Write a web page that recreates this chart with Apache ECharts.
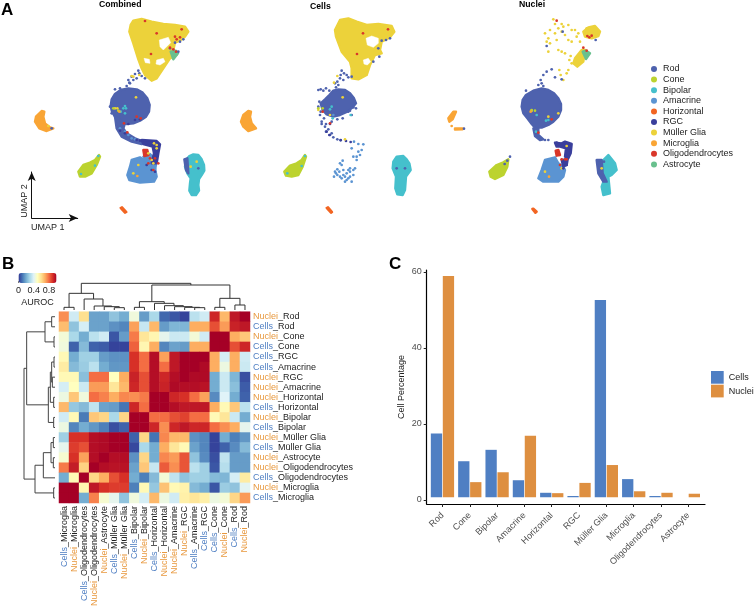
<!DOCTYPE html>
<html><head><meta charset="utf-8">
<style>html,body{margin:0;padding:0;background:#fff}#c{width:754px;height:610px}</style>
<script src="https://cdn.jsdelivr.net/npm/echarts@6/dist/echarts.min.js"></script>
</head><body><div id="c"></div>
<script>
// ---------- Cell types ----------
const cellTypes = ['Rod','Cone','Bipolar','Amacrine','Horizontal','RGC','Müller Glia','Microglia','Oligodendrocytes','Astrocyte'];
const typeColors = ['#4e62ae','#bcd32f','#45c0cc','#5b94d2','#f26522','#3a3f9c','#ecd23a','#f9a535','#d9372a','#69c08e'];

// ---------- Panel C ----------
const cellsPercent  = [17.5,10.2,13.2,5.2,1.9,1.05,52.6,5.5,1.05,0];
const nucleiPercent = [58.9,4.7,7.3,16.9,1.8,4.5,9.2,2.3,1.9,1.65];
const barTicks = [0,20,40,60];

// ---------- Panel B ----------
const heatCols = ['Cells_Microglia','Nuclei_Microglia','Cells_Oligodendrocytes','Nuclei_Oligodendrocytes','Nuclei_Astrocyte','Cells_Müller Glia','Nuclei_Müller Glia','Cells_Bipolar','Nuclei_Bipolar','Cells_Horizontal','Nuclei_Horizontal','Nuclei_Amacrine','Nuclei_RGC','Cells_Amacrine','Cells_RGC','Cells_Cone','Nuclei_Cone','Cells_Rod','Nuclei_Rod'];
const heatRows = ['Nuclei_Rod','Cells_Rod','Nuclei_Cone','Cells_Cone','Cells_RGC','Cells_Amacrine','Nuclei_RGC','Nuclei_Amacrine','Nuclei_Horizontal','Cells_Horizontal','Nuclei_Bipolar','Cells_Bipolar','Nuclei_Müller Glia','Cells_Müller Glia','Nuclei_Astrocyte','Nuclei_Oligodendrocytes','Cells_Oligodendrocytes','Nuclei_Microglia','Cells_Microglia'];
const heatValues = [
[.75,.37,.6,.18,.18,.25,.2,.45,.17,.3,.08,.05,.02,.33,.37,.92,.68,.95,1],
[.67,.25,.38,.18,.18,.15,.13,.72,.35,.68,.17,.22,.22,.7,.7,.85,.73,.93,.95],
[.46,.3,.2,.33,.37,.05,.17,.78,.58,.53,.42,.36,.36,.46,.37,1,1,.7,.65],
[.45,.07,.23,.07,.06,.02,.02,.82,.53,.7,.13,.18,.17,.7,.7,1,1,.85,.92],
[.52,.2,.28,.28,.17,.15,.15,.9,.8,.97,.72,.95,1,1,1,.7,.38,.7,.37],
[.56,.23,.27,.33,.2,.16,.16,.9,.8,.97,.8,.95,1,1,.98,.7,.44,.7,.36],
[.52,.52,.24,.8,.8,.5,.7,.93,.85,.97,.92,.97,1,.98,.98,.2,.36,.22,.04],
[.38,.5,.36,.73,.73,.58,.68,.92,.85,.97,.93,.98,.97,.97,.96,.2,.36,.24,.06],
[.44,.65,.45,.8,.77,.7,.76,.75,.78,1,1,.92,.9,.8,.72,.14,.4,.2,.07],
[.68,.26,.23,.34,.18,.17,.1,.92,.8,1,1,.97,.95,.95,.95,.7,.52,.65,.33],
[.37,.52,.11,.65,.62,.3,.62,1,1,.8,.8,.85,.87,.8,.8,.52,.58,.36,.2],
[.44,.13,.2,.16,.12,.04,.07,1,1,.92,.75,.92,.95,.92,.92,.8,.75,.7,.42],
[.28,.9,.9,.97,.98,1,1,.07,.62,.1,.76,.68,.68,.15,.13,.02,.2,.12,.16],
[.42,.88,.85,.97,.98,1,1,.03,.3,.2,.7,.58,.52,.18,.13,.02,.07,.14,.23],
[.47,.9,.72,.97,1,.97,.97,.15,.62,.2,.76,.73,.84,.25,.14,.04,.34,.17,.17],
[.78,.94,.63,1,.97,.96,.96,.18,.65,.35,.83,.75,.84,.33,.28,.05,.32,.17,.17],
[.2,.52,1,.62,.7,.85,.9,.2,.12,.23,.46,.34,.25,.28,.28,.23,.22,.38,.56],
[1,1,.53,.95,.9,.88,.88,.12,.52,.26,.66,.52,.54,.23,.2,.05,.27,.25,.41],
[1,1,.2,.77,.47,.42,.25,.45,.38,.68,.44,.37,.55,.58,.55,.44,.46,.62,.73]];
const aurocColors = ['#313695','#4575b4','#74add1','#abd9e9','#e0f3f8','#ffffbf','#fee090','#fdae61','#f46d43','#d73027','#a50026'];
// dendrogram merges: [child, child, height]; child < 19 is a leaf, otherwise 19 + merge index
const topMerges = [[0,1,8],[5,6,7],[4,20,10],[3,21,12],[2,22,33],[19,23,50],[13,14,7],[12,25,8],[11,26,10],[10,27,13],[9,28,20],[7,8,8],[30,29,25],[15,16,8],[17,18,15],[32,33,35],[31,34,75],[24,35,80]];
const leftMerges = [[0,1,10],[2,3,3],[19,20,30],[4,5,3],[6,7,8],[22,23,10],[8,9,4],[24,25,14],[10,11,4],[26,27,20],[21,28,85],[12,13,5],[14,15,5],[30,31,12],[16,32,35],[17,18,4],[33,34,60],[29,35,93]];

// ---------- Panel A: UMAP readings (outlines of dense clouds, then single points) ----------
const combMuller=[[400,62],[425,57],[455,65],[490,72],[525,75],[555,80],[565,95],[555,110],[540,122],[525,128],[520,150],[530,165],[510,175],[490,205],[470,235],[455,242],[435,225],[425,205],[415,178],[400,130],[388,95],[392,75]];
const combGap1=[[478,120],[505,112],[512,128],[500,140],[490,150],[480,140]];
const combGap2=[[470,180],[490,175],[495,185],[480,195],[468,192]];
const combGap3=[[432,175],[448,178],[450,190],[436,188]];
const combAstro=[[512,155],[528,152],[534,160],[520,178]];
const combRod=[[385,265],[410,268],[428,278],[442,295],[449,315],[447,335],[438,350],[420,362],[400,370],[380,372],[362,366],[346,352],[336,335],[332,318],[335,298],[345,282],[362,270]];
const combRodTail=[[345,350],[375,370],[370,385],[380,400],[405,415],[430,425],[425,432],[395,425],[365,410],[350,385]];
const combRgc=[[425,420],[470,423],[480,433],[475,460],[470,490],[455,490],[462,460],[458,440],[430,432]];
const combAmacrine=[[395,480],[420,472],[445,490],[465,505],[470,530],[462,545],[420,548],[388,540],[382,525],[390,500]];
const combAmacrineUp=[[430,470],[450,462],[470,482],[465,510],[445,495]];
const combOligoBlock=[[430,450],[442,450],[445,465],[433,468]];
const combBipolar=[[580,463],[595,465],[605,478],[612,495],[613,512],[605,525],[597,537],[595,555],[597,572],[588,585],[575,585],[568,572],[570,550],[572,535],[562,520],[555,500],[558,480],[568,468]];
const combRodOnBipolar=[[553,478],[562,475],[565,520],[558,510]];
const combCone=[[235,515],[250,495],[270,488],[285,480],[297,465],[300,470],[290,495],[275,520],[255,530],[240,530]];
const combMicroglia=[[125,333],[133,335],[130,350],[135,370],[150,382],[160,385],[140,393],[118,385],[105,365],[108,350]];
const combHorizontal=[[362,624],[366,622],[379,636],[375,638]];
const combRodDots=[[385,240],[395,230],[405,222],[415,212],[390,250],[380,258],[425,228],[435,235],[400,240],[410,235],[360,265],[345,268],[330,320],[335,340],[525,128],[540,125],[550,118],[510,145],[535,155],[155,385],[595,505],[388,248],[418,220]];
const combAmacrineDots=[[375,395],[385,405],[360,385],[395,415],[405,418]];
const combRgcDots=[[360,392],[375,400],[410,420],[420,422],[405,360],[420,358],[385,372],[455,510],[440,495],[465,515]];
const combMullerDots=[[408,292],[352,325],[345,325],[400,230],[418,225],[395,228],[462,430],[470,445],[470,435],[400,520],[415,495],[445,460],[460,490],[455,480],[572,500],[590,485],[145,378]];
const combBipolarDots=[[375,318],[370,325],[378,325],[375,340],[362,335],[285,497],[243,522],[295,468]];
const combConeDots=[[340,325],[355,332]];
const combMicrogliaDots=[[358,335],[412,528]];
const combOligoDots=[[435,63],[470,100],[525,110],[545,88],[540,112],[530,118],[453,162],[520,148],[528,155],[510,143],[372,370],[422,355],[410,350],[382,397],[450,475],[465,475],[445,490],[460,510],[475,490]];

const cellMuller=[[270,60],[295,55],[320,65],[350,75],[385,72],[425,78],[433,95],[420,112],[395,125],[390,150],[395,160],[375,165],[360,195],[350,225],[325,238],[305,235],[305,205],[300,185],[275,155],[258,110],[255,90]];
const cellGap1=[[348,115],[365,108],[385,115],[385,130],[370,142],[352,135]];
const cellGap2=[[340,180],[355,175],[362,185],[352,195],[342,192]];
const cellRod=[[265,268],[285,270],[300,280],[312,295],[318,310],[308,322],[292,335],[270,345],[250,350],[230,343],[218,330],[212,310],[225,298],[238,285],[250,272]];
const cellCone=[[103,515],[120,497],[140,490],[155,480],[165,465],[168,470],[158,500],[145,525],[125,530],[108,527]];
const cellMicroglia=[[-5,333],[3,335],[0,350],[5,370],[18,385],[-5,393],[-20,380],[-27,365],[-20,345]];
const cellBipolar=[[440,470],[460,468],[470,478],[478,490],[482,510],[468,530],[465,570],[458,585],[442,583],[436,565],[438,530],[428,505],[430,485]];
const cellHorizontal=[[230,624],[234,622],[246,636],[243,638]];
const cellRodDots=[[395,122],[420,115],[408,120],[385,145],[370,185],[388,170],[205,270],[212,268],[220,272],[228,265],[238,272],[208,305],[205,320],[212,335],[210,345],[222,355],[300,332],[310,322],[318,325],[305,345],[295,335],[278,355],[262,358],[245,365],[275,212],[282,220],[270,235],[262,245],[255,250],[265,255],[280,240],[295,232],[305,230],[272,225],[258,262],[290,225],[215,365],[225,380],[228,395],[240,405],[250,412],[262,418],[272,421],[215,372],[235,388],[228,372],[245,400],[440,505],[465,505]];
const cellRgcDots=[[240,372],[230,395],[238,405],[272,420],[288,423],[302,426]];
const cellAmacrineDots=[[312,425],[325,432],[340,433],[335,450],[330,465],[320,480],[305,445],[310,470],[320,470],[325,455],[270,490],[278,482],[275,495],[262,508],[258,520],[252,530],[262,525],[270,530],[280,525],[290,520],[300,515],[310,510],[315,505],[300,530],[290,540],[305,545],[295,535],[275,535],[285,530],[268,515],[280,510],[300,505],[255,515],[310,525],[295,510],[285,545],[250,345]];
const cellMullerDots=[[278,292],[252,248],[285,418],[262,228],[240,345],[205,330]];
const cellBipolarDots=[[245,320],[240,328],[302,345],[248,355],[165,468],[155,498],[112,520]];
const cellConeDots=[[205,325],[218,325]];
const cellOligoDots=[[339,100],[414,88],[321,162],[240,370],[218,335]];

const nucMullerDense1=[[250,95],[265,82],[285,78],[300,95],[295,108],[275,115],[255,110]];
const nucMullerDense2=[[225,175],[245,150],[255,150],[250,185],[232,200],[220,190]];
const nucAstro=[[248,155],[258,152],[270,160],[258,177]];
const nucRod=[[125,265],[145,270],[162,280],[175,295],[183,312],[183,330],[175,350],[160,365],[145,375],[125,383],[105,383],[95,372],[82,355],[70,340],[65,320],[68,300],[78,285],[100,272]];
const nucRodTail=[[100,385],[115,385],[115,405],[130,418],[120,420],[105,408]];
const nucRgc=[[165,428],[185,430],[195,425],[215,432],[212,460],[205,475],[195,470],[198,445],[180,440],[170,440]];
const nucRgc2=[[185,480],[203,478],[200,495],[190,500]];
const nucAmacrine=[[135,480],[165,472],[175,490],[190,500],[195,510],[190,530],[175,545],[130,545],[115,535],[125,510],[130,495]];
const nucOligoBlock=[[167,452],[175,450],[180,465],[170,467]];
const nucRodOnBipolar=[[290,480],[305,480],[308,520],[320,545],[310,545],[295,520]];
const nucBipolar=[[310,480],[325,465],[345,490],[350,510],[335,525],[325,530],[330,580],[310,585],[305,560],[312,540],[312,515],[305,490]];
const nucCone=[[-32,515],[-10,495],[10,487],[25,478],[22,500],[10,525],[-15,537],[-28,530]];
const nucMicroglia1=[[-155,355],[-140,335],[-132,335],[-142,358],[-152,365]];
const nucMicroglia2=[[-135,385],[-112,385],[-112,388],[-135,389]];
const nucHorizontal=[[97,627],[100,626],[110,635],[106,638]];
const nucMullerDots=[[160,58],[165,72],[185,72],[205,75],[215,90],[175,85],[135,100],[150,90],[165,100],[185,95],[205,120],[215,125],[195,105],[140,125],[150,130],[145,155],[175,150],[185,155],[195,160],[170,120],[235,100],[240,125],[145,115],[225,90],[190,80],[230,110],[260,85],[215,190],[205,210],[200,220],[190,240],[178,210],[182,225],[212,168],[208,180],[175,340],[145,350],[95,332],[200,438],[135,515],[185,505],[305,505]];
const nucRodDots=[[155,208],[140,215],[130,225],[122,240],[125,250],[130,258],[115,255],[165,232],[78,272],[185,238],[135,420],[145,420],[287,120],[188,95],[140,138],[22,482],[30,470],[14,492],[-108,386],[312,485]];
const nucBipolarDots=[[110,345],[145,360],[138,362],[108,395]];
const nucConeDots=[[105,332],[95,330]];
const nucMicrogliaDots=[[-145,378],[92,335],[147,530]];
const nucOligoDots=[[170,62],[262,108],[268,112],[275,107],[250,143],[260,152],[115,398],[155,358],[185,478],[195,478],[200,478],[180,495]];
const nucRgcDots=[[170,428],[200,495],[190,505]];

// ---------- Build ----------
const panels = [{off:0},{off:250},{off:500}];
const color = n => typeColors[cellTypes.indexOf(n)];
const series = [];
function shape(p, name, pts, fill){
  const c = fill || color(name);
  const gap = fill==='#ffffff';
  series.push({type:'custom',name:name,xAxisIndex:p,yAxisIndex:p,silent:true,clip:false,data:pts,itemStyle:{color:c},
    encode:{x:0,y:1},
    renderItem:(ps,api)=> ps.dataIndex>0 ? null : {type:'polygon',shape:{points:pts.map(q=>api.coord(q))},
      style:{fill:c,stroke:c,lineWidth:gap?0.5:2.4,lineJoin:'round'}}});
}
function dots(p, name, pts){
  series.push({type:'scatter',name:name,xAxisIndex:p,yAxisIndex:p,silent:true,data:pts,symbolSize:2.7,itemStyle:{color:color(name),opacity:1}});
}
// Combined
shape(0,'Müller Glia',combMuller);[combGap1,combGap2,combGap3].forEach(g=>shape(0,'gap',g,'#ffffff'));
shape(0,'Astrocyte',combAstro);dots(0,'Rod',combRodDots);
shape(0,'Amacrine',combAmacrine);shape(0,'Amacrine',combAmacrineUp);
shape(0,'Rod',combRod);shape(0,'Rod',combRodTail);shape(0,'RGC',combRgc);
shape(0,'Bipolar',combBipolar);shape(0,'Rod',combRodOnBipolar);shape(0,'Cone',combCone);
shape(0,'Microglia',combMicroglia);shape(0,'Horizontal',combHorizontal);shape(0,'Oligodendrocytes',combOligoBlock);
dots(0,'Amacrine',combAmacrineDots);dots(0,'RGC',combRgcDots);dots(0,'Müller Glia',combMullerDots);
dots(0,'Bipolar',combBipolarDots);dots(0,'Cone',combConeDots);dots(0,'Microglia',combMicrogliaDots);dots(0,'Oligodendrocytes',combOligoDots);
// Cells
shape(1,'Müller Glia',cellMuller);[cellGap1,cellGap2].forEach(g=>shape(1,'gap',g,'#ffffff'));
shape(1,'Rod',cellRod);shape(1,'Bipolar',cellBipolar);shape(1,'Cone',cellCone);shape(1,'Microglia',cellMicroglia);shape(1,'Horizontal',cellHorizontal);
dots(1,'Rod',cellRodDots);dots(1,'RGC',cellRgcDots);dots(1,'Amacrine',cellAmacrineDots);dots(1,'Müller Glia',cellMullerDots);
dots(1,'Bipolar',cellBipolarDots);dots(1,'Cone',cellConeDots);dots(1,'Oligodendrocytes',cellOligoDots);
// Nuclei
shape(2,'Müller Glia',nucMullerDense1);shape(2,'Müller Glia',nucMullerDense2);shape(2,'Astrocyte',nucAstro);
shape(2,'Amacrine',nucAmacrine);shape(2,'Rod',nucRod);shape(2,'Rod',nucRodTail);shape(2,'RGC',nucRgc);shape(2,'RGC',nucRgc2);
shape(2,'Bipolar',nucBipolar);shape(2,'Rod',nucRodOnBipolar);shape(2,'Cone',nucCone);
shape(2,'Microglia',nucMicroglia1);shape(2,'Microglia',nucMicroglia2);shape(2,'Horizontal',nucHorizontal);shape(2,'Oligodendrocytes',nucOligoBlock);
dots(2,'Müller Glia',nucMullerDots);dots(2,'Rod',nucRodDots);dots(2,'Bipolar',nucBipolarDots);dots(2,'Cone',nucConeDots);
dots(2,'Microglia',nucMicrogliaDots);dots(2,'Oligodendrocytes',nucOligoDots);dots(2,'RGC',nucRgcDots);

const grids=[], xAxes=[], yAxes=[];
const G=o=>({outerBoundsMode:'none',containLabel:false,...o});
panels.forEach(p=>{
  grids.push(G({left:p.off-150,top:0,width:410,height:240}));
  xAxes.push({type:'value',gridIndex:grids.length-1,min:-450,max:780,show:false});
  yAxes.push({type:'value',gridIndex:grids.length-1,min:0,max:720,inverse:true,show:false});
});
// UMAP arrows (index 3)
grids.push(G({left:31.7,top:172,width:46,height:46}));
const arrowLine={show:true,symbol:['none','arrow'],symbolSize:[6,9],lineStyle:{color:'#111',width:1}};
xAxes.push({type:'value',gridIndex:3,min:0,max:1,name:'UMAP 1',nameLocation:'middle',nameGap:5,nameTextStyle:{fontFamily:'Liberation Sans',fontSize:9,color:'#222',padding:[0,14,0,0]},axisLine:arrowLine,axisTick:{show:false},axisLabel:{show:false},splitLine:{show:false}});
yAxes.push({type:'value',gridIndex:3,min:0,max:1,name:'UMAP 2',nameLocation:'middle',nameGap:3,nameTextStyle:{fontFamily:'Liberation Sans',fontSize:9,color:'#222',padding:[0,12,0,0]},axisLine:arrowLine,axisTick:{show:false},axisLabel:{show:false},splitLine:{show:false}});
// Heatmap (index 4)
grids.push(G({left:59,top:311.7,width:191,height:191.3}));
const richLabel={Cells:{color:'#4f7fc3',fontSize:9,fontFamily:'Liberation Sans'},Nuclei:{color:'#e8993f',fontSize:9,fontFamily:'Liberation Sans'},rest:{color:'#222',fontSize:9,fontFamily:'Liberation Sans'}};
const fmt=v=>{const i=v.indexOf('_');const a=v.slice(0,i);return '{'+a+'|'+a+'}{rest|'+v.slice(i)+'}';};
xAxes.push({type:'category',gridIndex:4,data:heatCols,position:'bottom',axisLine:{show:false},axisTick:{show:false},splitLine:{show:false},axisLabel:{interval:0,rotate:90,margin:3,formatter:fmt,rich:richLabel}});
yAxes.push({type:'category',gridIndex:4,data:heatRows,inverse:true,position:'right',axisLine:{show:false},axisTick:{show:false},splitLine:{show:false},axisLabel:{interval:0,margin:3,formatter:fmt,rich:richLabel}});
const heatData=[];heatValues.forEach((r,i)=>r.forEach((v,j)=>heatData.push([j,i,v])));
series.push({type:'heatmap',name:'AUROC',xAxisIndex:4,yAxisIndex:4,data:heatData,silent:true,progressive:0});
const heatIndex=series.length-1;
// Top dendrogram (index 5)
function segments(merges){
  const pos=[],ht=[];for(let i=0;i<19;i++){pos[i]=i+.5;ht[i]=0;}
  return merges.map((m,k)=>{const r=[pos[m[0]],ht[m[0]],pos[m[1]],ht[m[1]],m[2]];pos[19+k]=(pos[m[0]]+pos[m[1]])/2;ht[19+k]=m[2];return r;});
}
grids.push(G({left:59,top:283,width:191,height:27}));
xAxes.push({type:'value',gridIndex:5,min:0,max:19,show:false});
yAxes.push({type:'value',gridIndex:5,min:0,max:81,show:false});
series.push({type:'custom',xAxisIndex:5,yAxisIndex:5,silent:true,clip:false,data:segments(topMerges),encode:{x:[0,2],y:[1,3,4]},
  renderItem:(ps,api)=>({type:'polyline',shape:{points:[[api.value(0),api.value(1)],[api.value(0),api.value(4)],[api.value(2),api.value(4)],[api.value(2),api.value(3)]].map(q=>api.coord(q))},style:{fill:'none',stroke:'#333',lineWidth:1}})});
// Left dendrogram (index 6)
grids.push(G({left:24,top:311.7,width:31,height:191.3}));
xAxes.push({type:'value',gridIndex:6,min:0,max:93,inverse:true,show:false});
yAxes.push({type:'value',gridIndex:6,min:0,max:19,inverse:true,show:false});
series.push({type:'custom',xAxisIndex:6,yAxisIndex:6,silent:true,clip:false,data:segments(leftMerges),encode:{y:[0,2],x:[1,3,4]},
  renderItem:(ps,api)=>({type:'polyline',shape:{points:[[api.value(1),api.value(0)],[api.value(4),api.value(0)],[api.value(4),api.value(2)],[api.value(3),api.value(2)]].map(q=>api.coord(q))},style:{fill:'none',stroke:'#444',lineWidth:1}})});
// Colour bar ticks (index 7)
grids.push(G({left:18.5,top:273,width:38,height:10}));
xAxes.push({type:'value',gridIndex:7,min:0,max:1,interval:.4,name:'AUROC',nameLocation:'middle',nameGap:15,nameTextStyle:{fontFamily:'Liberation Sans',fontSize:9,color:'#222'},axisLine:{show:false},axisTick:{inside:true,length:2,lineStyle:{color:'#222',width:.6}},splitLine:{show:false},axisLabel:{margin:3,fontFamily:'Liberation Sans',fontSize:9,color:'#222',formatter:v=>String(+v.toFixed(1))}});
yAxes.push({type:'value',gridIndex:7,min:0,max:1,show:false});
// Bars (index 8) and axis frame (index 9)
const yMin=-1.05,yMax=60.5;
grids.push(G({left:428.8,top:270,width:273.2,height:234}));
xAxes.push({type:'category',gridIndex:8,data:cellTypes,position:'bottom',axisLine:{show:false,onZero:false},axisTick:{show:true,alignWithLabel:true,length:3,lineStyle:{color:'#222'}},splitLine:{show:false},axisLabel:{interval:0,rotate:45,margin:10,fontFamily:'Liberation Sans',fontSize:9,color:'#4d4d4d'}});
yAxes.push({type:'value',gridIndex:8,min:yMin,max:yMax,show:false});
grids.push(G({left:426.7,top:270,width:278.3,height:234}));
xAxes.push({type:'value',gridIndex:9,min:0,max:1,axisLine:{show:true,onZero:false,lineStyle:{color:'#000',width:1.2}},axisTick:{show:false},axisLabel:{show:false},splitLine:{show:false}});
yAxes.push({type:'value',gridIndex:9,min:yMin,max:yMax,name:'Cell Percentage',nameLocation:'middle',nameGap:21,nameTextStyle:{fontFamily:'Liberation Sans',fontSize:9,color:'#222'},axisLine:{show:true,onZero:false,lineStyle:{color:'#000',width:1.2}},axisTick:{show:true,length:3,customValues:barTicks,lineStyle:{color:'#222'}},splitLine:{show:false},axisLabel:{customValues:barTicks,margin:5,fontFamily:'Liberation Sans',fontSize:9,color:'#4d4d4d'}});
const barCommon={type:'bar',xAxisIndex:8,yAxisIndex:8,barWidth:11.3,barGap:'6%',silent:true};
series.push({...barCommon,name:'Cells',data:cellsPercent,itemStyle:{color:'#4f7fc3'}});
series.push({...barCommon,name:'Nuclei',data:nucleiPercent,itemStyle:{color:'#de8f40'},
  markArea:{silent:true,z:6,itemStyle:{color:'#fff',opacity:1},data:[[{yAxis:0},{yAxis:.7}]]}});

const txt=(text,left,top,size,extra)=>({text:text,left:left,top:top,padding:0,textStyle:{fontFamily:'Liberation Sans',fontWeight:'bold',fontSize:size,color:'#000'},...extra});
const option={
  animation:false,
  textStyle:{fontFamily:'Liberation Sans'},
  title:[txt('A',1,2,17),txt('B',2,256,17),txt('C',389,256,17),
    txt('Combined',99,0,8.7),txt('Cells',310,2,8.7),txt('Nuclei',519,0,8.7)],
  grid:grids,xAxis:xAxes,yAxis:yAxes,series:series,
  visualMap:{type:'continuous',seriesIndex:heatIndex,min:0,max:1,orient:'horizontal',left:18.5,top:273,padding:0,itemWidth:10,itemHeight:38,calculable:false,realtime:false,hoverLink:false,text:null,inRange:{color:aurocColors},textStyle:{fontSize:1,color:'transparent'}},
  legend:[
    {data:cellTypes.map((n,i)=>({name:n,icon:'circle',itemStyle:{color:typeColors[i]}})),orient:'vertical',left:651,top:64.5,padding:0,itemWidth:6,itemHeight:6,itemGap:1.6,selectedMode:false,textStyle:{fontFamily:'Liberation Sans',fontSize:9,color:'#222',padding:[0,0,0,1]}},
    {data:['Cells','Nuclei'].map((n,i)=>({name:n,icon:'rect',itemStyle:{color:i?'#de8f40':'#4f7fc3'}})),orient:'vertical',left:711,top:371,padding:0,itemWidth:12.7,itemHeight:12.7,itemGap:1,selectedMode:false,textStyle:{fontFamily:'Liberation Sans',fontSize:9,color:'#222'}}
  ]
};
const chart=echarts.init(document.getElementById('c'),null,{renderer:'canvas',width:754,height:610});
chart.setOption(option);
</script></body></html>
